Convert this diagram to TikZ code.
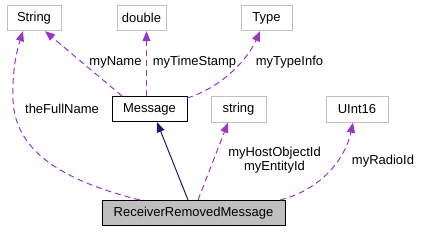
\documentclass[tikz,border=0pt]{standalone}
\usepackage{fontspec}
\setmainfont{Liberation Sans}
\usetikzlibrary{arrows.meta}
\definecolor{edgepurple}{HTML}{9A32CD}
\definecolor{edgenavy}{HTML}{191970}
\definecolor{boxgray}{HTML}{BFBFBF}
\tikzset{
  cls/.style={draw=boxgray, line width=0.75pt, fill=white, inner sep=0pt, minimum height=19pt, font=\fontsize{9.75}{11}\selectfont},
  mainbox/.style={cls, draw=black},
  selfbox/.style={cls, draw=black, fill=boxgray},
  usage/.style={draw=edgepurple, line width=0.75pt, dashed, dash pattern=on 4.5pt off 3pt, -{Triangle[length=7.5pt,width=6pt]}},
  inherit/.style={draw=edgenavy, line width=0.75pt, -{Triangle[length=7.5pt,width=6pt]}},
  lbl/.style={inner sep=0pt, font=\fontsize{9.75}{10.5}\selectfont, align=center}
}
\begin{document}
\begin{tikzpicture}[x=0.75pt, y=-0.75pt]
\useasboundingbox (0,0) rectangle (421,232);
\node[cls, minimum width=40.5pt] (String) at (34,18) {String};
\node[cls, minimum width=36.75pt] (double) at (141.5,18) {double};
\node[cls, minimum width=38.25pt] (Type) at (266.5,18) {Type};
\node[mainbox, minimum width=56.25pt] (Message) at (149.5,109) {Message};
\node[cls, minimum width=41.25pt] (str) at (238.5,109.5) {string};
\node[cls, minimum width=46.5pt] (UInt) at (357,109.5) {UInt16};
\node[selfbox, minimum width=137.25pt] (RRM) at (193.5,213) {ReceiverRemovedMessage};
% connector anchors
\coordinate (mS) at (122,96);
\coordinate (mT) at (187,98);
\coordinate (mD) at (146.5,96);
\coordinate (rF) at (140,200);
\coordinate (rM) at (188,200);
\coordinate (rS) at (198,200);
\coordinate (rU) at (280,200);
\draw[usage] (mS) -- (String.south -| 45,0);
\draw[usage] (mD) -- (double.south -| 146.5,0);
\draw[usage] (mT) .. controls (215,90) and (245,65) .. (Type.south -| 260,0);
\draw[usage] (rF) .. controls (60,180) and (15,150) .. (13,100) .. controls (12,70) and (17,50) .. (String.south -| 23,0);
\draw[inherit] (rM) -- (Message.south -| 157,0);
\draw[usage] (rS) -- (str.south -| 228,0);
\draw[usage] (rU) .. controls (320,190) and (345,160) .. (UInt.south -| 353,0);
\node[lbl] (l1) at (115.5,62) {myName};
\node[lbl] (l2) at (194.5,62) {myTimeStamp};
\node[lbl] (l3) at (289.5,62) {myTypeInfo};
\node[lbl] (l4) at (62,109) {theFullName};
\node[lbl] (l5) at (274.5,160) {myHostObjectId\\myEntityId};
\node[lbl] (l6) at (383,161) {myRadioId};
\end{tikzpicture}
\end{document}
